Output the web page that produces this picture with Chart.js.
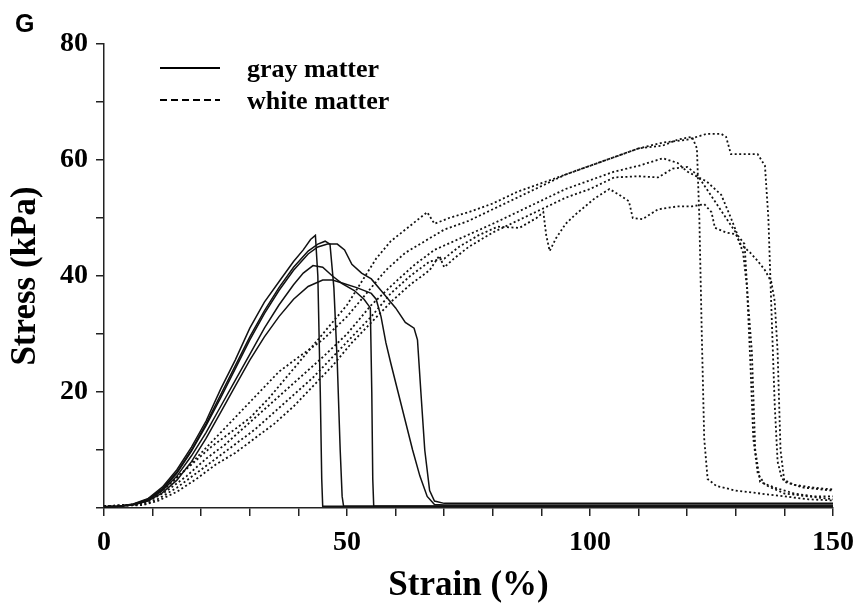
<!DOCTYPE html>
<html>
<head>
<meta charset="utf-8">
<script src="https://cdn.jsdelivr.net/npm/chart.js@4.4.0/dist/chart.umd.min.js"></script>
<style>
html,body{margin:0;padding:0;background:#fff;}
#wrap{width:864px;height:605px;}
</style>
</head>
<body>
<div id="wrap"><canvas id="c" width="864" height="605"></canvas></div>
<script>
// ---- tick labels & names ----
const xTickLabels = [0, 50, 100, 150];
const yTickLabels = [20, 40, 60, 80];
const seriesNames = ['gray matter', 'white matter'];

// ---- gray matter (solid) ----
const gray1Strain = [0,3,6,9,12,15,18,21,24,27,30,33,36,39,41,42.5,43.5,44,44.5,44.8,45,150];
const gray1Stress = [0.2,0.3,0.7,1.6,3.6,6.6,10.5,15,20.5,25.5,31,35.5,39,42.5,44.5,46.3,47,40,20,5,0.3,0.3];

const gray2Strain = [0,3,6,9,12,15,18,21,24,27,30,33,36,39,42,44,45.5,46.5,47.3,48,48.6,49,49.3,150];
const gray2Stress = [0.2,0.3,0.6,1.5,3.3,6.2,10,14.5,19.5,24.5,29.5,34,38,41.5,44.3,45.5,46,45.5,38,25,10,2,0.3,0.3];

const gray3Strain = [0,3,6,9,12,15,18,21,24,27,30,33,36,39,41,43,45,47,49,51.5,53.5,54.8,55.1,55.3,55.5,150];
const gray3Stress = [0.2,0.3,0.6,1.3,3,5.5,9,13,17.5,22,26.5,31,35,38.5,40.5,41.8,41.5,40,38.7,37.5,36,34.5,20,5,0.3,0.3];

const gray4Strain = [0,3,6,9,12,15,18,21,24,27,30,33,36,39,42,44,46,48,49.5,51,53,55,57,58.5,60,62,63.8,64.5,65.2,66,67,68,70,150];
const gray4Stress = [0.2,0.3,0.6,1.4,3.2,6,9.8,14.2,19,24,29,33.5,37.5,41,43.8,45,45.5,45.5,44.5,42,40.5,39.5,37.5,36,34.5,32,31,29,20,10,3,1.2,0.8,0.8];

const gray5Strain = [0,3,6,9,12,15,18,21,24,27,30,33,36,39,42,45,47,49,52,55,56,57,58,59,60.5,62,63.5,65,66.5,68,70,150];
const gray5Stress = [0.2,0.3,0.5,1.2,2.6,4.8,8,12,16.5,21,25.5,29.5,33,36,38.2,39.3,39.3,38.8,38,37,36,33,28.5,25,20,15,10,5.5,2,0.6,0.5,0.5];

// ---- white matter (dotted) ----
const white1Strain = [0,5,8,11,14,18,22,26,30,34,38,42,46,50,53,56,59,62,65,66.5,68,71,75,80,85,90,95,100,105,110,115,120,124,127,128,129,132,134.5,136,136.7,137.3,138,138.6,139.5,142,146,150];
const white1Stress = [0.3,0.5,1,2.5,4.5,7.5,10.5,13,15.5,19,23,27,31,35,39,43,46,48,50,51,49,50,51,52.5,54.5,56,57.5,59,60.5,62,63,63.5,64.5,64.5,64,61,61,61,59,50,35,18,8,5,4,3.5,3.2];

const white2Strain = [0,6,9,12,16,20,24,28,32,36,40,45,50,54,58,62,66,70,75,80,85,90,95,100,105,110,115,118,121,122,122.5,123,123.5,124.2,126,130,135,140,145,150];
const white2Stress = [0.3,0.5,1.2,3,6,9.5,13,16.5,20,23.5,26,29,33,37,41,44,46,48,49.5,51.5,53.5,55.5,57.5,59,60.5,62,62.5,63.5,64,62,50,30,12,5,3.8,3,2.5,2,1.5,1.3];

const white3Strain = [0,7,10,13,17,21,25,29,33,37,41,45,50,55,60,64,68,72,76,80,85,90,95,100,105,110,115,118,120,124,127,129,130.4,131.8,132.5,133.3,134,135,138,142,146,150];
const white3Stress = [0.3,0.6,1.5,3,5.5,8.5,11,14,17,20,23,26,30,35,39,42,44.5,46,47.5,49,51,53,55,56.5,58,59,60.3,59.5,58,56.3,54,50,47,45.5,35.7,27,10,4.5,3.5,2.5,2,2];

const white4Strain = [0,8,11,15,19,23,27,31,35,39,43,47,51,55,59,63,67,70,73,77,81,85.5,89,90.4,91,91.7,93,95,97,101,104,106,108,108.8,110.8,114,118,121,123.5,125,125.7,128,130,131,133,134.5,136,137.3,138,138.6,139.2,140,144,150];
const white4Stress = [0.3,0.6,1.5,3.5,6,8.5,11,13.5,16.5,19.5,22.5,26,29.5,33,37,40,42.5,43,45,47,48.5,48.3,50,51,47,44.3,46.5,49,50.6,53.4,55,54,52.9,50,49.8,51.5,52,52,52.4,51,48.3,47.5,47.2,45.5,44,42.6,41,39,35.7,27,10,4.5,3.5,3];

const white5Strain = [0,8,11,15,19,23,27,31,35,39,43,47,51,55,59,63,67,69,70,72,75,80,85,90,95,100,105,110,114,117,120,122,124,126,128,130,131.5,132.3,133,133.6,134.5,136,140,145,150];
const white5Stress = [0.3,0.5,1.2,2.8,5,7.5,9.5,12,14.5,17.5,21,24.5,28.5,32,35.5,38.5,41,43.5,41.5,43,45,47.5,49.5,51.5,53.5,55,57,57.2,57,58.5,58.8,57.5,55,52.5,50,47.5,44,38,25,12,6,4,2.5,2,1.5];

// ---- build datasets from the arrays ----
function pts(xs, ys) { return xs.map((x, i) => ({ x: x, y: ys[i] })); }
const grayCurves = [[gray1Strain, gray1Stress],[gray2Strain, gray2Stress],[gray3Strain, gray3Stress],[gray4Strain, gray4Stress],[gray5Strain, gray5Stress]];
const whiteCurves = [[white1Strain, white1Stress],[white2Strain, white2Stress],[white3Strain, white3Stress],[white4Strain, white4Stress],[white5Strain, white5Stress]];

const datasets = [];
grayCurves.forEach(([xs, ys]) => datasets.push({
  label: seriesNames[0], data: pts(xs, ys), borderColor: '#111', borderWidth: 1.5,
  pointRadius: 0, fill: false, tension: 0
}));
whiteCurves.forEach(([xs, ys]) => datasets.push({
  label: seriesNames[1], data: pts(xs, ys), borderColor: '#111', borderWidth: 1.8,
  borderDash: [2, 2.5], pointRadius: 0, fill: false, tension: 0
}));

const SERIF = '"Liberation Serif", "Times New Roman", serif';

// legend drawn inside the plot area (top-left)
const insideLegend = {
  id: 'insideLegend',
  afterDraw(chart) {
    const ctx = chart.ctx;
    const area = chart.chartArea;
    const items = [{ text: seriesNames[0], dash: [] }, { text: seriesNames[1], dash: [7, 4] }];
    ctx.save();
    ctx.font = 'bold 26px ' + SERIF;
    ctx.fillStyle = '#000';
    ctx.strokeStyle = '#000';
    ctx.lineWidth = 2;
    ctx.textBaseline = 'middle';
    items.forEach((it, i) => {
      const y = area.top + 24 + i * 32;
      const x0 = area.left + 56;
      ctx.setLineDash(it.dash);
      ctx.beginPath();
      ctx.moveTo(x0, y);
      ctx.lineTo(x0 + 60, y);
      ctx.stroke();
      ctx.setLineDash([]);
      ctx.fillText(it.text, x0 + 87, y + 2);
    });
    ctx.restore();
  }
};

new Chart(document.getElementById('c'), {
  type: 'line',
  data: { datasets: datasets },
  plugins: [insideLegend],
  options: {
    responsive: false,
    animation: false,
    layout: { padding: { left: 15, right: 25, top: 0, bottom: 0 } },
    plugins: {
      legend: { display: false },
      tooltip: { enabled: false },
      title: {
        display: true, text: 'G', align: 'start', color: '#000',
        font: { family: '"Liberation Sans", Arial, sans-serif', size: 25, weight: 'bold' },
        padding: { top: 10, bottom: 4 }
      }
    },
    scales: {
      x: {
        type: 'linear', min: 0, max: 150, position: 'bottom',
        afterFit(s) { s.height = 97; },
        ticks: {
          stepSize: 10, autoSkip: false, maxRotation: 0, color: '#000', padding: 10,
          font: { family: SERIF, size: 28, weight: 'bold' },
          callback: (v) => xTickLabels.includes(v) ? String(v) : ''
        },
        grid: { drawOnChartArea: false, drawTicks: true, tickLength: 8, color: '#222', lineWidth: 1.5 },
        border: { display: true, color: '#222', width: 1.5 },
        title: {
          display: true, text: 'Strain (%)', color: '#000',
          font: { family: SERIF, size: 35, weight: 'bold' }, padding: { top: 0, bottom: -2 }
        }
      },
      y: {
        type: 'linear', min: 0, max: 80,
        afterFit(s) { s.width = 89; },
        ticks: {
          stepSize: 10, autoSkip: false, color: '#000', padding: 8,
          font: { family: SERIF, size: 28, weight: 'bold' },
          callback: (v) => yTickLabels.includes(v) ? String(v) : ''
        },
        grid: { drawOnChartArea: false, drawTicks: true, tickLength: 8, color: '#222', lineWidth: 1.5 },
        border: { display: true, color: '#222', width: 1.5 },
        title: {
          display: true, text: 'Stress (kPa)', color: '#000',
          font: { family: SERIF, size: 35, weight: 'bold' }, padding: { top: -10, bottom: 0 }
        }
      }
    }
  }
});
</script>
</body>
</html>
